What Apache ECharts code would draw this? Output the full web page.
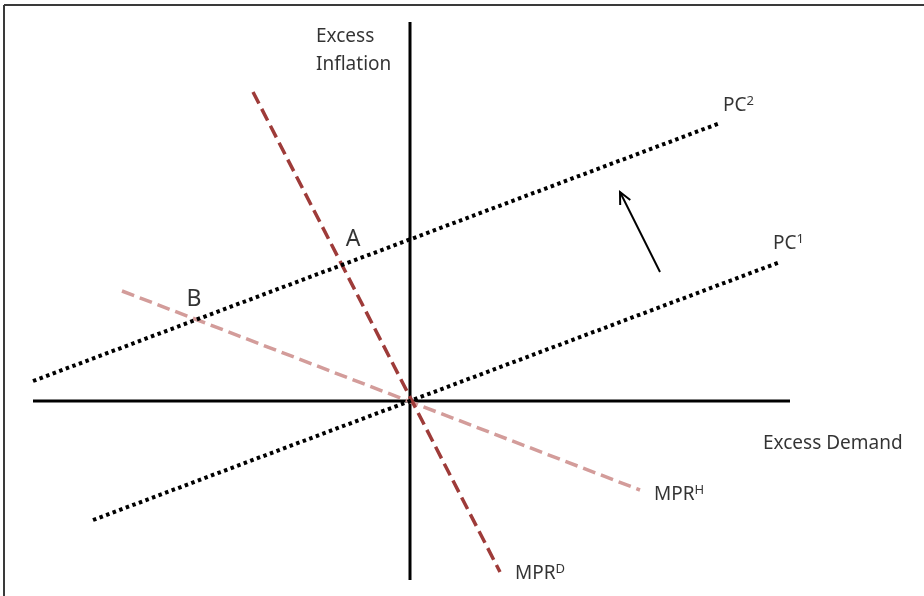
<!DOCTYPE html>
<html>
<head>
<meta charset="utf-8">
<script src="https://cdn.jsdelivr.net/npm/echarts@6/dist/echarts.min.js"></script>
<style>
html,body{margin:0;padding:0;background:#fff;}
#chart{width:924px;height:596px;}
</style>
</head>
<body>
<div id="chart"></div>
<script>
// Diagram data (abstract units; origin = intersection of the axes)
const horizontalAxis = [[-9.425, 0], [9.5, 0]];
const verticalAxis   = [[0, 9.475], [0, -4.475]];
const pc1  = [[-7.925, -2.975], [9.25, 3.475]];
const pc2  = [[-9.425, 0.5], [7.75, 6.95]];
const mprD = [[-3.925, 7.725], [2.25, -4.275]];
const mprH = [[-7.2, 2.75], [5.75, -2.225]];
const shiftArrow = [[6.25, 3.225, 5.25, 5.225]];
// Text annotations: [x, y, key]
const annotations = [
  [-2.35, 9.1, 'excess'],
  [-2.35, 8.4, 'inflation'],
  [8.825, -1.075, 'demand'],
  [7.825, 7.375, 'pc2'],
  [9.075, 3.925, 'pc1'],
  [6.1, -2.35, 'mprh'],
  [2.625, -4.325, 'mprd']
];
const pointLabels = [
  [-1.425, 4.05, 'A'],
  [-5.4, 2.55, 'B']
];

const FONT = 'Noto Sans';
const rich = {
  t: {fontSize: 19, color: '#000', fontFamily: FONT},
  s: {fontSize: 13, color: '#000', fontFamily: FONT, padding: [0, 0, 9, 0]},
  p: {fontSize: 23, color: '#000', fontFamily: FONT}
};
const texts = {
  excess: '{t|Excess}',
  inflation: '{t|Inflation}',
  demand: '{t|Excess Demand}',
  pc2: '{t|PC}{s|2}',
  pc1: '{t|PC}{s|1}',
  mprh: '{t|MPR}{s|H}',
  mprd: '{t|MPR}{s|D}'
};

function seg(name, data, color, width, dash) {
  return {
    type: 'line', name, data, symbol: 'none', silent: true, z: dash ? 3 : 2,
    lineStyle: {color, width, type: dash || 'solid', cap: 'butt'},
    animation: false
  };
}

const chart = echarts.init(document.getElementById('chart'), null, {renderer: 'canvas'});
chart.setOption({
  animation: false,
  backgroundColor: '#ffffff',
  grid: {left: 0, right: 0, top: 0, bottom: 0},
  xAxis: {type: 'value', min: -10.25, max: 12.85, show: false},
  yAxis: {type: 'value', min: -4.875, max: 10.025, show: false},
  graphic: [
    {type: 'line', shape: {x1: 4, y1: 5, x2: 924, y2: 5}, style: {stroke: '#3a3a3a', lineWidth: 2}},
    {type: 'line', shape: {x1: 4, y1: 5, x2: 4, y2: 596}, style: {stroke: '#3a3a3a', lineWidth: 2}}
  ],
  series: [
    seg('hAxis', horizontalAxis, '#000', 3),
    seg('vAxis', verticalAxis, '#000', 3),
    seg('MPR_H', mprH, '#d39c9a', 3.5, [13, 6]),
    seg('MPR_D', mprD, '#9e3b39', 3.5, [13, 6]),
    seg('PC1', pc1, '#000', 4, [3.5, 3.5]),
    seg('PC2', pc2, '#000', 4, [3.5, 3.5]),
    {
      type: 'custom', name: 'arrow', data: shiftArrow, silent: true, z: 5,
      renderItem: function (params, api) {
        const a = api.coord([api.value(0), api.value(1)]);
        const b = api.coord([api.value(2), api.value(3)]);
        const ang = Math.atan2(b[1] - a[1], b[0] - a[0]);
        const L = 13, w = Math.PI / 7;
        const h1 = [b[0] - L * Math.cos(ang - w), b[1] - L * Math.sin(ang - w)];
        const h2 = [b[0] - L * Math.cos(ang + w), b[1] - L * Math.sin(ang + w)];
        return {
          type: 'group',
          children: [
            {type: 'line', shape: {x1: a[0], y1: a[1], x2: b[0], y2: b[1]}, style: {stroke: '#000', lineWidth: 2}},
            {type: 'polyline', shape: {points: [h1, b, h2]}, style: {stroke: '#000', lineWidth: 2, fill: null}}
          ]
        };
      }
    },
    {
      type: 'scatter', name: 'texts', symbolSize: 0, silent: true, z: 6,
      data: annotations.map(d => ({value: [d[0], d[1]], key: d[2]})),
      label: {
        show: true, position: 'inside', align: 'left', verticalAlign: 'middle',
        formatter: p => texts[p.data.key], rich: rich
      }
    },
    {
      type: 'scatter', name: 'points', symbolSize: 0, silent: true, z: 6,
      data: pointLabels.map(d => ({value: [d[0], d[1]], key: d[2]})),
      label: {
        show: true, position: 'inside', align: 'center', verticalAlign: 'middle',
        formatter: p => '{p|' + p.data.key + '}', rich: rich
      }
    }
  ]
});
</script>
</body>
</html>
